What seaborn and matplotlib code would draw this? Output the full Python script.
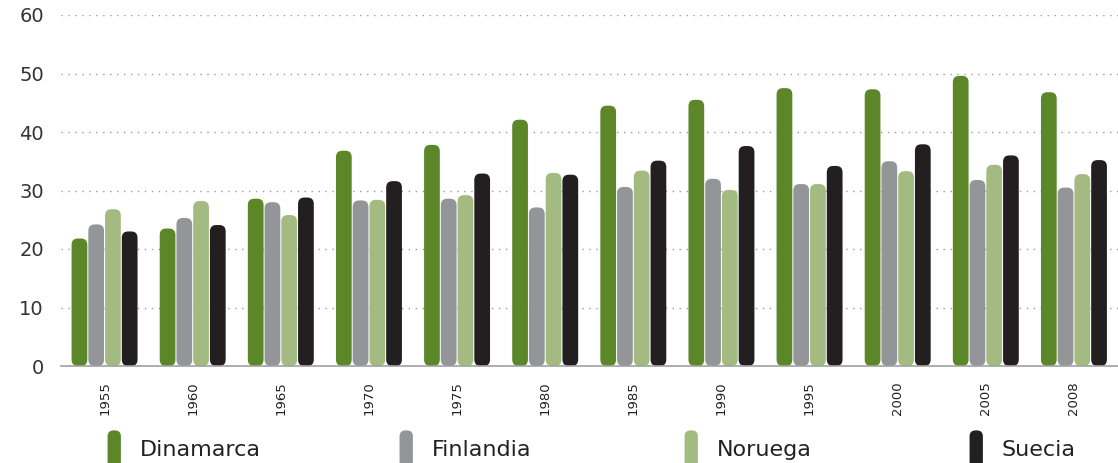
import matplotlib
matplotlib.use("Agg")
import matplotlib.pyplot as plt
import seaborn as sns
import pandas as pd
from matplotlib.patches import FancyBboxPatch, Patch
from matplotlib.legend_handler import HandlerPatch

years = ["1955", "1960", "1965", "1970", "1975", "1980", "1985", "1990", "1995", "2000", "2005", "2008"]
dinamarca = [21.8, 23.5, 28.6, 36.8, 37.8, 42.1, 44.5, 45.5, 47.5, 47.3, 49.6, 46.8]
finlandia = [24.2, 25.3, 28.0, 28.3, 28.6, 27.1, 30.6, 32.0, 31.1, 35.0, 31.8, 30.5]
noruega = [26.8, 28.2, 25.8, 28.4, 29.2, 33.0, 33.4, 30.1, 31.1, 33.3, 34.4, 32.8]
suecia = [23.0, 24.1, 28.8, 31.6, 32.9, 32.7, 35.1, 37.6, 34.2, 37.9, 36.0, 35.2]
countries = ["Dinamarca", "Finlandia", "Noruega", "Suecia"]
colors = ["#5b8728", "#939598", "#a3ba80", "#231f20"]

rows = []
for c, vals in zip(countries, [dinamarca, finlandia, noruega, suecia]):
    for y, v in zip(years, vals):
        rows.append({"Año": y, "País": c, "Valor": v})
df = pd.DataFrame(rows)

sns.set_style("white")
plt.rcParams['font.family'] = ['DejaVu Sans']

W, H = 1118, 463
fig = plt.figure(figsize=(W / 100, H / 100), dpi=100)
ax_left, ax_bottom = 60.5 / W, 1 - 366 / H
ax_w, ax_h = 1 - 60.5 / W, 351 / H
ax = fig.add_axes([ax_left, ax_bottom, ax_w, ax_h])

sns.barplot(data=df, x="Año", y="Valor", hue="País", order=years, hue_order=countries,
            palette=colors, saturation=1, width=0.76, gap=0.06, ax=ax)

if ax.get_legend() is not None:
    ax.get_legend().remove()

ax.set_ylim(0, 60)
ax.set_xlim(-0.5, 11.3)

# rounded bar ends (geometry taken from seaborn's bars)
x_per_px = (11.3 + 0.5) / (ax_w * W)
y_per_px = 60 / (ax_h * H)
aspect = y_per_px / x_per_px
for p in list(ax.patches):
    x, y0 = p.get_x(), p.get_y()
    w, h = p.get_width(), p.get_height()
    fc = p.get_facecolor()
    p.set_visible(False)
    r = w * 0.4
    fb = FancyBboxPatch((x, y0), w, h,
                        boxstyle=f"round,pad=0,rounding_size={r}",
                        mutation_aspect=aspect, facecolor=fc, edgecolor="none", zorder=3)
    ax.add_patch(fb)

ax.set_yticks(range(0, 61, 10))
ax.set_xlabel("")
ax.set_ylabel("")
ax.grid(False)
for yv in range(10, 61, 10):
    ax.axhline(yv, color="#9a9a9a", linestyle=(0, (1, 4)), linewidth=1.0, zorder=0)

for s in ["top", "right", "left"]:
    ax.spines[s].set_visible(False)
ax.spines["bottom"].set_color("#a0a0a0")
ax.spines["bottom"].set_linewidth(1.2)
ax.spines["bottom"].set_zorder(4)

ax.tick_params(axis="y", length=0, labelsize=14, labelcolor="#333333", pad=12)
ax.tick_params(axis="x", which="major", length=0, labelsize=9.5, labelcolor="#222222", pad=11)
ax.set_xticks([i - 0.5 for i in range(13)], minor=True)
ax.tick_params(axis="x", which="minor", length=6, color="#a0a0a0", width=1.2, direction="out")
plt.setp(ax.get_xticklabels(), rotation=90)


def rounded_handle(legend, orig_handle, xdescent, ydescent, width, height, fontsize):
    return FancyBboxPatch((-xdescent, -ydescent), width, height,
                          boxstyle=f"round,pad=0,rounding_size={width * 0.45}")


# legend: one entry per column, evenly spaced as in the reference
leg_x = [92, 384, 669, 954]
for c, lab, lx in zip(colors, countries, leg_x):
    hdl = Patch(facecolor=c, edgecolor="none")
    fig.legend([hdl], [lab], loc="center left", bbox_to_anchor=(lx / W, 1 - 449 / H),
               frameon=False, handlelength=0.6, handleheight=2.2, handletextpad=0.85,
               prop={"size": 16}, labelcolor="#222222", borderpad=0.2,
               handler_map={Patch: HandlerPatch(patch_func=rounded_handle)})

fig.savefig("out.png", dpi=100)
